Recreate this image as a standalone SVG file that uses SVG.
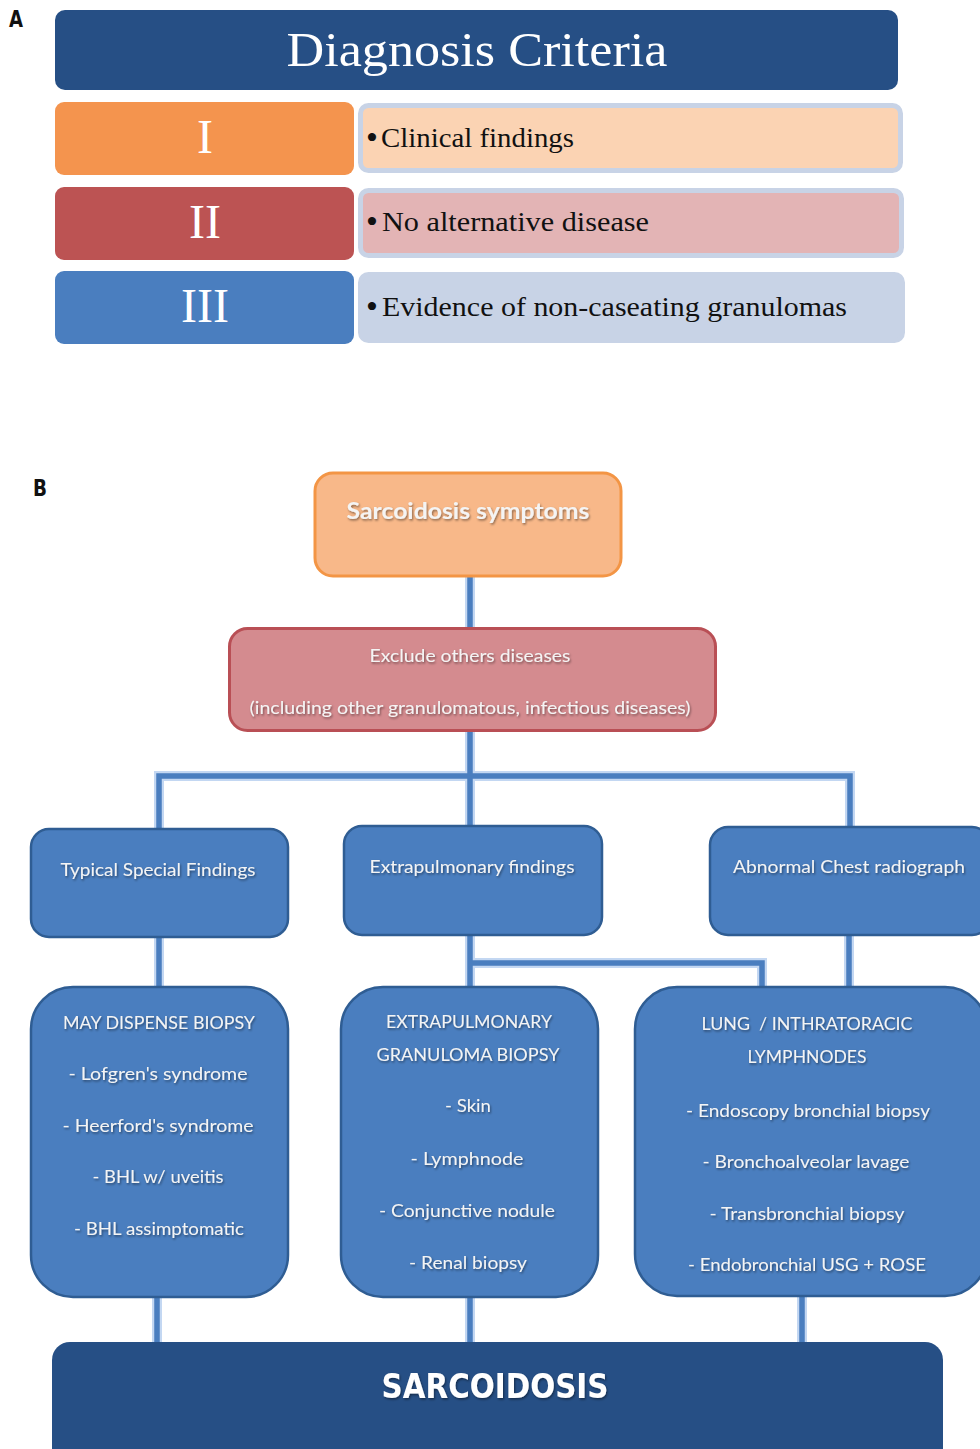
<svg xmlns="http://www.w3.org/2000/svg" width="980" height="1449" viewBox="0 0 980 1449">
<defs>
<filter id="ts" x="-10%" y="-50%" width="120%" height="200%"><feDropShadow dx="1" dy="1.5" stdDeviation="0.8" flood-color="#000" flood-opacity="0.45"/></filter>
<style>
.lbl{font-family:"DejaVu Sans Condensed","DejaVu Sans",sans-serif;font-weight:bold;font-size:23px;fill:#111}
.serifW{font-family:"Liberation Serif","DejaVu Serif",serif;fill:#fff}
.serifB{font-family:"Liberation Serif","DejaVu Serif",serif;fill:#111;font-size:28px}
.bul{font-size:34px}
.rightbox{stroke:#c8d3e6;stroke-width:5}
.bt{font-family:Lato,"Liberation Sans",sans-serif;font-size:18px;fill:#f4f4f4;text-anchor:middle;filter:url(#ts)}
.big{font-size:22px;font-weight:bold}
.final{font-family:"DejaVu Sans Condensed","Liberation Sans",sans-serif;font-size:34px;font-weight:bold;fill:#fff}
.blue{fill:#4a7ebf;stroke:#2f5d93;stroke-width:2.5}
.halo{fill:none;stroke:#a9c6ec;stroke-width:10;stroke-opacity:0.7}
.line{fill:none;stroke:#4a7ebf;stroke-width:5.5}
</style>
</defs>
<rect width="980" height="1449" fill="#fff"/>

<!-- Part A -->
<text class="lbl" x="9" y="27" textLength="14" lengthAdjust="spacingAndGlyphs">A</text>
<g id="title">
<rect x="55" y="10" width="843" height="80" rx="10" fill="#264f85"/>
<text class="serifW" x="477" y="66" font-size="48" text-anchor="middle" textLength="381" lengthAdjust="spacingAndGlyphs">Diagnosis Criteria</text>
</g>
<g id="row1">
<rect x="55" y="102" width="299" height="73" rx="9" fill="#f4944e"/>
<text class="serifW" x="205" y="153" font-size="48" text-anchor="middle">I</text>
<rect class="rightbox" x="360.5" y="105.5" width="540" height="65" rx="8" fill="#fbd3b3"/>
<text class="serifB" y="147"><tspan class="bul" x="366" y="149">•</tspan><tspan x="381" y="147" textLength="193" lengthAdjust="spacingAndGlyphs">Clinical findings</tspan></text>
</g>
<g id="row2">
<rect x="55" y="187" width="299" height="73" rx="9" fill="#bc5353"/>
<text class="serifW" x="205" y="238" font-size="48" text-anchor="middle">II</text>
<rect class="rightbox" x="360.5" y="190.5" width="541" height="65" rx="8" fill="#e3b4b5"/>
<text class="serifB" y="231"><tspan class="bul" x="366" y="233">•</tspan><tspan x="382" y="231" textLength="267" lengthAdjust="spacingAndGlyphs">No alternative disease</tspan></text>
</g>
<g id="row3">
<rect x="55" y="271" width="299" height="73" rx="9" fill="#4a7ebf"/>
<text class="serifW" x="205" y="322" font-size="48" text-anchor="middle">III</text>
<rect class="rightbox" x="360.5" y="274.5" width="542" height="66" rx="8" fill="#c8d3e6"/>
<text class="serifB" y="316"><tspan class="bul" x="366" y="318">•</tspan><tspan x="382" y="316" textLength="465" lengthAdjust="spacingAndGlyphs">Evidence of non-caseating granulomas</tspan></text>
</g>

<!-- Part B -->
<text class="lbl" x="33" y="496" textLength="14" lengthAdjust="spacingAndGlyphs">B</text>

<g id="connectors">
<path class="halo" d="M470 577V628 M470 731V827 M159 829V776H850V828 M159 937V988 M470 935V988 M470 963H762V988 M849 935V988 M157 1297V1343 M470 1297V1343 M802 1296V1343"/>
<path class="line" d="M470 577V628 M470 731V827 M159 829V776H850V828 M159 937V988 M470 935V988 M470 963H762V988 M849 935V988 M157 1297V1343 M470 1297V1343 M802 1296V1343"/>
</g>

<g id="symptoms">
<rect x="315" y="473" width="306" height="103" rx="18" fill="#f8b889" stroke="#f39545" stroke-width="3"/>
<text class="bt big" x="468" y="519" textLength="243" lengthAdjust="spacingAndGlyphs">Sarcoidosis symptoms</text>
</g>
<g id="exclude">
<rect x="229.5" y="628.5" width="486" height="102" rx="18" fill="#d48b8f" stroke="#b94f55" stroke-width="3"/>
<text class="bt" x="470" y="662" textLength="201" lengthAdjust="spacingAndGlyphs">Exclude others diseases</text>
<text class="bt" x="470" y="714" textLength="441" lengthAdjust="spacingAndGlyphs">(including other granulomatous, infectious diseases)</text>
</g>
<g id="typical">
<rect class="blue" x="31" y="829" width="257" height="108" rx="18"/>
<text class="bt" x="158" y="876" textLength="195" lengthAdjust="spacingAndGlyphs">Typical Special Findings</text>
</g>
<g id="extrafind">
<rect class="blue" x="344" y="826" width="258" height="109" rx="18"/>
<text class="bt" x="472" y="873" textLength="205" lengthAdjust="spacingAndGlyphs">Extrapulmonary findings</text>
</g>
<g id="chest">
<rect class="blue" x="710" y="827" width="280" height="108" rx="18"/>
<text class="bt" x="849" y="873" textLength="232" lengthAdjust="spacingAndGlyphs">Abnormal Chest radiograph</text>
</g>
<g id="dispense">
<rect class="blue" x="31" y="987" width="257" height="310" rx="42"/>
<text class="bt" x="159" y="1029" textLength="192" lengthAdjust="spacingAndGlyphs">MAY DISPENSE BIOPSY</text>
<text class="bt" x="158" y="1080" textLength="179" lengthAdjust="spacingAndGlyphs">- Lofgren's syndrome</text>
<text class="bt" x="158" y="1132" textLength="191" lengthAdjust="spacingAndGlyphs">- Heerford's syndrome</text>
<text class="bt" x="158" y="1183" textLength="131" lengthAdjust="spacingAndGlyphs">- BHL w/ uveitis</text>
<text class="bt" x="159" y="1235" textLength="170" lengthAdjust="spacingAndGlyphs">- BHL assimptomatic</text>
</g>
<g id="extrabiopsy">
<rect class="blue" x="341" y="987" width="257" height="310" rx="42"/>
<text class="bt" x="469" y="1028" textLength="166" lengthAdjust="spacingAndGlyphs">EXTRAPULMONARY</text>
<text class="bt" x="468" y="1061" textLength="183" lengthAdjust="spacingAndGlyphs">GRANULOMA BIOPSY</text>
<text class="bt" x="468" y="1112" textLength="46" lengthAdjust="spacingAndGlyphs">- Skin</text>
<text class="bt" x="467" y="1165" textLength="113" lengthAdjust="spacingAndGlyphs">- Lymphnode</text>
<text class="bt" x="467" y="1217" textLength="176" lengthAdjust="spacingAndGlyphs">- Conjunctive nodule</text>
<text class="bt" x="468" y="1269" textLength="118" lengthAdjust="spacingAndGlyphs">- Renal biopsy</text>
</g>
<g id="lung">
<rect class="blue" x="635" y="987" width="352" height="309" rx="42"/>
<text class="bt" x="807" y="1030" textLength="211" lengthAdjust="spacingAndGlyphs" xml:space="preserve">LUNG  / INTHRATORACIC</text>
<text class="bt" x="807" y="1063" textLength="119" lengthAdjust="spacingAndGlyphs">LYMPHNODES</text>
<text class="bt" x="808" y="1117" textLength="244" lengthAdjust="spacingAndGlyphs">- Endoscopy bronchial biopsy</text>
<text class="bt" x="806" y="1168" textLength="207" lengthAdjust="spacingAndGlyphs">- Bronchoalveolar lavage</text>
<text class="bt" x="807" y="1220" textLength="195" lengthAdjust="spacingAndGlyphs">- Transbronchial biopsy</text>
<text class="bt" x="807" y="1271" textLength="238" lengthAdjust="spacingAndGlyphs">- Endobronchial USG + ROSE</text>
</g>
<g id="sarcoidosis">
<rect x="52" y="1342" width="891" height="125" rx="18" fill="#264f85"/>
<text class="bt final" x="495" y="1398" textLength="227" lengthAdjust="spacingAndGlyphs">SARCOIDOSIS</text>
</g>
</svg>
